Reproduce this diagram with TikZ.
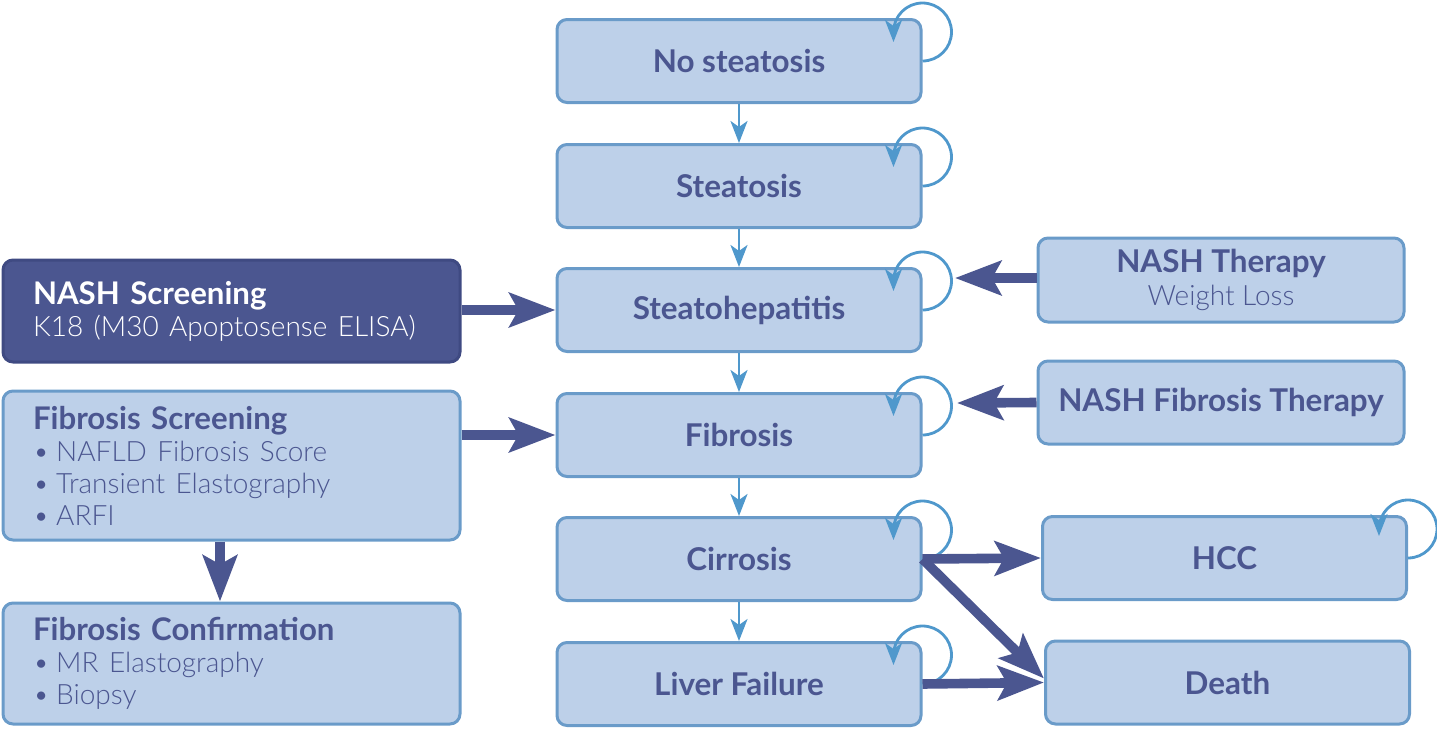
\documentclass[tikz,border=0pt]{standalone}
\usepackage{fontspec}
\setmainfont{Lato}
\newfontfamily\lightfont{Lato Light}
\usetikzlibrary{arrows.meta}

\definecolor{boxfill}{HTML}{BDD0E9}
\definecolor{boxline}{HTML}{6A9BC9}
\definecolor{navy}{HTML}{4B5690}
\definecolor{navyline}{HTML}{3F4A82}
\definecolor{loopblue}{HTML}{4F98CC}

\newcommand{\sub}{\lightfont\fontsize{14}{16}\selectfont}
\newcommand{\itm}{\sub\textbullet\kern3.5pt}

\tikzstyle{stage} = [draw=boxline, fill=boxfill, line width=1.5pt, rounded corners=5pt, minimum width=182pt, minimum height=41.5pt, text=navy, font=\fontsize{15.7}{16.2}\selectfont\bfseries]
\tikzstyle{infobox} = [stage, align=left, inner xsep=15pt, text width=198.5pt, minimum width=228.5pt, font=\fontsize{15.6}{16}\selectfont]
\tikzstyle{thinarrow} = [draw=loopblue, line width=1.4pt, -{Stealth[length=11pt,width=8.5pt,inset=3pt]}]
\tikzstyle{thickarrow} = [draw=navy, line width=4.8pt, -{Stealth[length=23pt,width=17pt,inset=4.5pt]}]

\begin{document}
\begin{tikzpicture}[x=0.5pt, y=-0.5pt]
	\useasboundingbox (0,0) rectangle (1437,729);

	% disease stages
	\node[stage] (nos) at (739,61) {No steatosis};
	\node[stage] (ste) at (739,186) {Steatosis};
	\node[stage] (sth) at (739,310) {Steatohepatitis};
	\node[stage] (fib) at (739,435) {Fibrosis};
	\node[stage] (cir) at (739,559) {Cirrosis};
	\node[stage] (liv) at (739,684) {Liver Failure};

	% screening
	\node[infobox, fill=navy, draw=navyline, text=white, minimum height=51pt] (ns) at (231.5,311)
		{\textbf{NASH Screening}\\\sub K18 (M30 Apoptosense ELISA)};
	\node[infobox, minimum height=74.5pt] (fs) at (231.5,465.5)
		{\textbf{Fibrosis Screening}\\\itm NAFLD Fibrosis Score\\\itm Transient Elastography\\\itm ARFI};
	\node[infobox, minimum height=60.5pt] (fc) at (231.5,663.5)
		{\textbf{Fibrosis Confirmation}\\\itm MR Elastography\\\itm Biopsy};

	% therapy and outcomes
	\node[stage, minimum width=183pt, minimum height=42pt, align=center] (ther) at (1221,280)
		{NASH Therapy\\{\mdseries\sub Weight Loss}};
	\node[stage, minimum width=183pt] (fther) at (1221,402.5) {NASH Fibrosis Therapy};
	\node[stage] (hcc) at (1224.5,558) {HCC};
	\node[stage] (dea) at (1227.5,682.5) {Death};

	\coordinate (therin) at (955,278);
	\coordinate (ftherin) at (957,403);

	% progression
	\draw[thinarrow] (nos) -- (ste);
	\draw[thinarrow] (ste) -- (sth);
	\draw[thinarrow] (sth) -- (fib);
	\draw[thinarrow] (fib) -- (cir);
	\draw[thinarrow] (cir) -- (liv);

	% staying in a stage
	\draw[thinarrow] (nos.east) arc[start angle=90, end angle=-180, radius=29] -- ++(0,10);
	\draw[thinarrow] (ste.east) arc[start angle=90, end angle=-180, radius=29] -- ++(0,10);
	\draw[thinarrow] (sth.east) arc[start angle=90, end angle=-180, radius=29] -- ++(0,10);
	\draw[thinarrow] (fib.east) arc[start angle=90, end angle=-180, radius=29] -- ++(0,10);
	\draw[thinarrow] (cir.east) arc[start angle=90, end angle=-180, radius=29] -- ++(0,10);
	\draw[thinarrow] (liv.east) arc[start angle=90, end angle=-180, radius=29] -- ++(0,10);
	\draw[thinarrow] (hcc.east) arc[start angle=90, end angle=-180, radius=29] -- ++(0,7);

	% tests and treatments
	\draw[thickarrow] (ns.east |- sth.west) -- (sth.west);
	\draw[thickarrow] (fs.east |- fib.west) -- (fib.west);
	\draw[thickarrow] ([xshift=-5.75pt]fs.south) -- ([xshift=-5.75pt]fc.north);
	\draw[thickarrow] (ther.west |- therin) -- (therin);
	\draw[thickarrow] (fther.west) -- (ftherin);
	\draw[thickarrow] (cir.east) -- (hcc.west);
	\draw[thickarrow] (cir.east) -- ([yshift=2pt]dea.west);
	\draw[thickarrow] (liv.east) -- (dea.west);
\end{tikzpicture}
\end{document}
